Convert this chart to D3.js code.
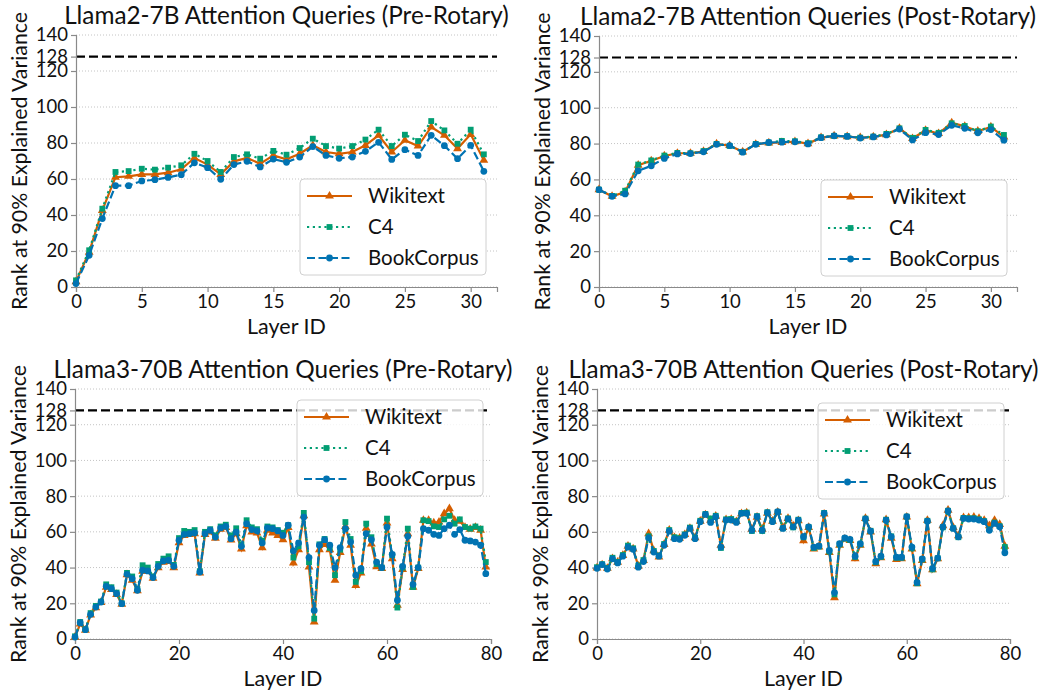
<!DOCTYPE html>
<html>
<head>
<meta charset="utf-8">
<script src="https://cdn.jsdelivr.net/npm/d3@7"></script>
<style>
  body { margin: 0; background: #fff; }
  svg { font-family: Lato, "DejaVu Sans", sans-serif; }
</style>
</head>
<body>
<svg id="chart" width="1039" height="694"></svg>
<script>
// rank at 90% explained variance, per layer
const seriesNames = ['Wikitext', 'C4', 'BookCorpus'];
const yTicks = [0, 20, 40, 60, 80, 100, 120, 140, 128];
const headDim = 128;

const l2PreWiki = [3, 19.4, 42.6, 61, 61.5, 62.6, 62.6, 63.5, 65.4, 71.7, 68, 62.6, 69.8, 71.7, 68.5, 73.1,
  70.9, 74, 78.7, 75, 74, 75, 78.7, 84.3, 75, 81.5, 78.3, 88.9, 84.3, 76.9, 84.8, 70.4];
const l2PreC4 = [3.7, 20.4, 43.5, 63.9, 64.4, 65.7, 65.2, 66.3, 67.6, 74, 70, 63.9, 72.2, 73.7, 71.3, 75.6,
  73.5, 77.2, 82.4, 78.3, 76.9, 78.3, 81.9, 87.4, 78.3, 84.6, 81.1, 92.2, 87, 79.6, 87.4, 73.7];
const l2PreBook = [1.9, 17.6, 38, 56.3, 56.3, 58.9, 59.6, 60.9, 62.4, 69, 66.3, 59.8, 68, 69.8, 66.7, 71.1,
  69.3, 72.2, 78, 73.1, 71.5, 72.2, 75.4, 80.4, 70.9, 76.3, 73.1, 84.3, 78.5, 71.3, 78.7, 64.3];

const l2PostWiki = [54.3, 50.6, 53, 68, 70.4, 73.1, 74.6, 74.6, 75.6, 79.8, 78.9, 75.4, 79.6, 80.4, 80.6, 81.1,
  80, 83.3, 84.3, 83.9, 83.3, 83.7, 85, 88.5, 82.8, 87.4, 85.6, 91.6, 89.6, 86.9, 89.3, 83.7];
const l2PostC4 = [54.3, 50.8, 53.7, 68.3, 70.6, 73.3, 74.8, 74.6, 75.8, 79.8, 78.7, 75.4, 79.8, 80.6, 81.5, 81.3,
  80.2, 83.5, 84.3, 84.1, 83.3, 83.9, 85.4, 88.5, 83.2, 87.6, 86, 91.3, 89.8, 86.9, 89.5, 84.8];
const l2PostBook = [54.3, 50.6, 51.9, 64.8, 67.6, 71.7, 74.2, 74.4, 75.4, 79.6, 78.9, 75.2, 79.6, 80.6, 80.8, 81,
  79.8, 83.3, 84.3, 84, 83.1, 83.7, 84.8, 88.1, 82, 86.1, 85, 90.2, 88.5, 86, 87.8, 81.9];

const l3PreWiki = [1, 8.5, 5, 13.5, 17.5, 20.5, 29, 27.8, 25, 19.5, 36, 33, 27, 38, 38, 34,
  40, 43, 43.5, 40, 54, 58, 58.5, 59, 37, 58.5, 60, 56.5, 61.5, 62.5, 55.5, 59,
  50.5, 63.5, 60, 59.4, 51.2, 61, 59.4, 58, 55.6, 62.5, 42.6, 50, 69, 40.3, 9.5, 50,
  53, 50, 32.9, 48.5, 63, 52.5, 30, 37, 62, 53.3, 40.5, 39.5, 65, 45, 19, 39,
  59, 29, 39.5, 66.5, 66.5, 65, 65.5, 70.2, 73, 66.5, 66, 62.5, 61.5, 62.5, 61, 40.3];
const l3PreC4 = [1.5, 9.5, 5.5, 14.5, 18.5, 21, 30.6, 29, 26, 20, 37, 35, 28, 41.3, 40, 35,
  42, 45, 46.3, 41.5, 56.5, 60.5, 60, 61, 38, 60, 61.5, 58, 63, 64, 58, 62,
  53, 66.5, 62.5, 61.5, 55, 63, 62.5, 61, 59.5, 63.7, 45.6, 52, 70.6, 43, 11.4, 53,
  56, 51, 35.7, 50, 65.5, 56, 32, 38, 64.6, 57, 42, 40, 67.4, 47, 17.6, 40,
  61.8, 29.1, 40, 66.5, 66, 63.1, 62.7, 67, 69, 64.6, 67, 62.7, 61.8, 63, 61.8, 43.1];
const l3PreBook = [1.1, 9.1, 5.2, 13.8, 17.9, 20.7, 29.5, 28.2, 25.4, 19.8, 36.2, 33.8, 27.3, 38.5, 38.1, 34.4,
  40.7, 43.7, 44.1, 40.7, 55.3, 58.6, 59, 59.4, 37.5, 59, 60.9, 57.1, 62.2, 63.1, 56.2, 59.9,
  51.9, 64.6, 61.3, 60.5, 53.8, 62.2, 61.8, 60.5, 58, 63.7, 49.3, 53.8, 68.3, 45.6, 16, 52.5,
  55.6, 52.5, 40, 51.2, 61.8, 54.3, 35.7, 39.4, 59, 55.6, 43.1, 40, 62.7, 47.4, 21.7, 40.7,
  57.5, 30.6, 40, 61.8, 60.9, 58.6, 58, 61.8, 63.7, 58.6, 61.3, 55.3, 54.9, 54.3, 52.5, 36.6];

const l3PostWiki = [39.8, 41.5, 39.6, 45, 43, 46.8, 52, 50.5, 40.8, 44, 59, 49.5, 46, 53, 61, 56.8,
  56.5, 58.5, 62, 56.8, 66, 69.5, 66.5, 68.8, 52.5, 66.8, 67, 65.8, 70.2, 70.6, 61.5, 68.2,
  61.5, 70.5, 66, 71, 62.5, 67.5, 63.3, 66.3, 55, 62.5, 50.5, 51.5, 70, 48.5, 23.2, 52.5,
  56, 55.2, 45, 52.5, 67.5, 60, 42.2, 45.5, 66.8, 56.5, 44.5, 45, 68.3, 50.5, 31, 44,
  66.5, 38.8, 45, 63.5, 72.2, 62.5, 57.8, 68, 68, 68.2, 67.5, 66.5, 63.5, 66.5, 64.2, 52];
const l3PostC4 = [40.2, 41.9, 39.8, 45.5, 43.2, 47, 52.3, 50.8, 41, 44.2, 57.5, 49.3, 46.8, 53.2, 61, 57,
  56.5, 58.6, 62.4, 56.6, 66.2, 70, 67.5, 69, 51, 67, 67.2, 66, 70.6, 70.8, 60.5, 68.8,
  60.5, 71, 66.2, 71.2, 62, 67.5, 62.5, 66.8, 57, 62.6, 51, 51.8, 70.6, 49, 25, 53,
  56.2, 55.5, 46, 53, 67.4, 60.6, 43, 46, 66.8, 57.5, 45.5, 45.5, 68.5, 51, 31.2, 44.5,
  66.2, 39, 45.2, 62.5, 71.8, 62, 57, 67.8, 67.6, 67.6, 67, 66, 61.5, 65.2, 63.2, 51.5];
const l3PostBook = [39.6, 41.7, 39.2, 44.9, 42.6, 46.4, 51.5, 50.2, 40.2, 43.4, 56.6, 48.7, 46.4, 52.5, 60.4, 56.2,
  55.8, 58.1, 61.9, 56.2, 65.7, 69.8, 65.3, 68.5, 51.5, 66.6, 66.6, 65.3, 70.4, 70.4, 60.9, 68.5,
  60.9, 70.8, 65.7, 71.3, 61.9, 67.2, 62.8, 66.6, 57.2, 62.8, 51.5, 52.1, 70.4, 49.6, 26, 53.4,
  56.6, 55.8, 46.4, 53.4, 67.2, 60.4, 43.4, 46.4, 66.6, 57.2, 45.8, 45.8, 68.5, 51.5, 31.7, 44.9,
  66, 39.6, 45.3, 62.8, 71.7, 61.9, 57.2, 67.5, 67.2, 67.2, 66.6, 65.7, 60.9, 64.7, 62.8, 48.3];

const seriesStyle = [
  { color: '#D55E00', dash: null, symbol: d3.symbolTriangle, size: 34 },
  { color: '#029E73', dash: '2.2,3.6', symbol: d3.symbolSquare, size: 34 },
  { color: '#0173B2', dash: '8,3.5', symbol: d3.symbolCircle, size: 36 }
];

const panels = [
  { title: 'Llama2-7B Attention Queries (Pre-Rotary)', left: 76, right: 497, top: 35, bottom: 287,
    xMax: 32, xTicks: [0, 5, 10, 15, 20, 25, 30], series: [l2PreWiki, l2PreC4, l2PreBook],
    legend: { x: 300, y: 179, alpha: 1 } },
  { title: 'Llama2-7B Attention Queries (Post-Rotary)', left: 599, right: 1017, top: 36, bottom: 287,
    xMax: 32, xTicks: [0, 5, 10, 15, 20, 25, 30], series: [l2PostWiki, l2PostC4, l2PostBook],
    legend: { x: 821, y: 180, alpha: 1 } },
  { title: 'Llama3-70B Attention Queries (Pre-Rotary)', left: 75, right: 491, top: 389, bottom: 639,
    xMax: 80, xTicks: [0, 20, 40, 60, 80], series: [l3PreWiki, l3PreC4, l3PreBook],
    legend: { x: 297, y: 400, alpha: 0.8 } },
  { title: 'Llama3-70B Attention Queries (Post-Rotary)', left: 597, right: 1010, top: 389, bottom: 639,
    xMax: 80, xTicks: [0, 20, 40, 60, 80], series: [l3PostWiki, l3PostC4, l3PostBook],
    legend: { x: 818, y: 403, alpha: 0.8 } }
];

const svg = d3.select('#chart');
svg.append('rect').attr('width', 1039).attr('height', 694).attr('fill', '#fff');

panels.forEach(p => drawPanel(svg, p));

function drawPanel(svg, p) {
  let x = d3.scaleLinear().domain([0, p.xMax]).range([p.left, p.right]);
  let y = d3.scaleLinear().domain([0, 140]).range([p.bottom, p.top]);
  let g = svg.append('g');

  // dotted horizontal grid
  g.selectAll('line.grid')
    .data([0, 20, 40, 60, 80, 100, 120, 140])
    .enter().append('line')
    .attr('class', 'grid')
    .attr('x1', p.left).attr('x2', p.right)
    .attr('y1', d => y(d)).attr('y2', d => y(d))
    .style('stroke', '#c4c4c4')
    .style('stroke-width', 1)
    .style('stroke-dasharray', '1,2');

  // head dimension reference
  g.append('line')
    .attr('x1', p.left).attr('x2', p.right)
    .attr('y1', y(headDim)).attr('y2', y(headDim))
    .style('stroke', '#000')
    .style('stroke-width', 2.2)
    .style('stroke-dasharray', '9,4');

  let yAxis = d3.axisLeft(y).tickValues(yTicks).tickSize(5).tickPadding(3).tickFormat(d3.format('d'));
  let xAxis = d3.axisBottom(x).tickValues(p.xTicks).tickSize(5).tickPadding(3).tickFormat(d3.format('d'));

  let ya = g.append('g').attr('transform', `translate(${p.left},0)`).call(yAxis);
  let xa = g.append('g').attr('transform', `translate(0,${p.bottom})`).call(xAxis);
  [ya, xa].forEach(a => {
    a.select('.domain').style('stroke', '#8a8a8a').style('stroke-width', 1.2);
    a.selectAll('.tick line').style('stroke', '#8a8a8a').style('stroke-width', 1.2);
    a.selectAll('.tick text').style('font-size', '18.5px').style('fill', '#111')
      .style('font-family', 'Lato, sans-serif');
  });

  // lines + markers
  p.series.forEach((vals, si) => {
    let st = seriesStyle[si];
    let line = d3.line().x((d, i) => x(i)).y(d => y(d));
    g.append('path')
      .datum(vals)
      .attr('d', line)
      .style('fill', 'none')
      .style('stroke', st.color)
      .style('stroke-width', 2.2)
      .style('stroke-dasharray', st.dash);
    g.selectAll(`path.mk${si}`)
      .data(vals)
      .enter().append('path')
      .attr('class', `mk${si}`)
      .attr('transform', (d, i) => `translate(${x(i)},${y(d)})`)
      .attr('d', d3.symbol().type(st.symbol).size(st.size))
      .style('fill', st.color);
  });

  // title and axis labels
  g.append('text')
    .attr('x', (p.left + p.right) / 2)
    .attr('y', p.top - 11)
    .style('text-anchor', 'middle')
    .style('font-size', '24.3px')
    .style('fill', '#111')
    .text(p.title);

  g.append('text')
    .attr('x', (p.left + p.right) / 2)
    .attr('y', p.bottom + 47)
    .style('text-anchor', 'middle')
    .style('font-size', '21.5px')
    .style('fill', '#111')
    .text('Layer ID');

  g.append('text')
    .attr('transform', `translate(${p.left - 49},${(p.top + p.bottom) / 2}) rotate(-90)`)
    .style('text-anchor', 'middle')
    .style('font-size', '21.3px')
    .style('fill', '#111')
    .text('Rank at 90% Explained Variance');

  // legend
  let lg = g.append('g').attr('transform', `translate(${p.legend.x},${p.legend.y})`);
  lg.append('rect')
    .attr('width', 186).attr('height', 96)
    .attr('rx', 4)
    .style('fill', '#fff')
    .style('fill-opacity', p.legend.alpha)
    .style('stroke', '#d0d0d0')
    .style('stroke-width', 1);
  seriesNames.forEach((name, si) => {
    let st = seriesStyle[si];
    let ry = 17 + si * 31;
    lg.append('line')
      .attr('x1', 7).attr('x2', 52)
      .attr('y1', ry).attr('y2', ry)
      .style('stroke', st.color)
      .style('stroke-width', 2.2)
      .style('stroke-dasharray', st.dash);
    lg.append('path')
      .attr('transform', `translate(29.5,${ry})`)
      .attr('d', d3.symbol().type(st.symbol).size(st.size))
      .style('fill', st.color);
    lg.append('text')
      .attr('x', 68).attr('y', ry)
      .attr('dy', '0.35em')
      .style('font-size', '20.5px')
      .style('fill', '#111')
      .text(name);
  });
}
</script>
</body>
</html>
